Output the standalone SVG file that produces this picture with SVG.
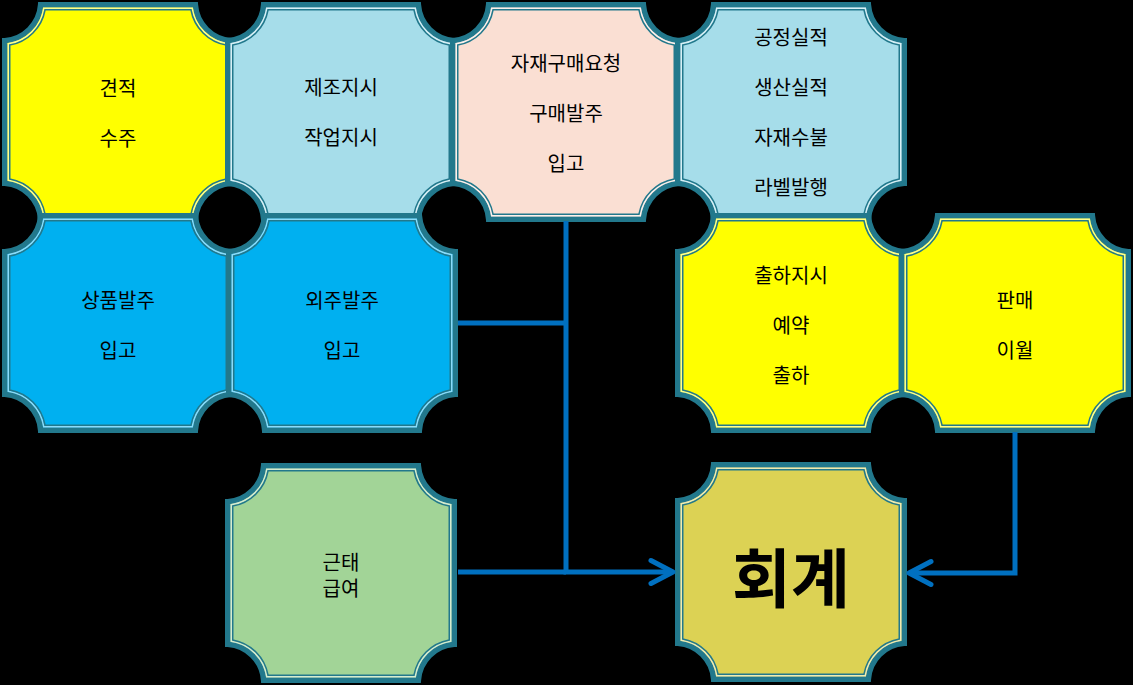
<svg xmlns="http://www.w3.org/2000/svg" xmlns:xlink="http://www.w3.org/1999/xlink" width="1133" height="685" viewBox="0 0 1133 685">
<style>
.sh{stroke:#22788C;stroke-width:5.5}
.ln{fill:none;stroke:#fff;stroke-opacity:.55;stroke-width:1.5}
.in{fill:none;stroke:#22788C;stroke-width:1.5}
.t{font-family:"Noto Sans CJK KR","Noto Sans",sans-serif;font-size:20px;fill:#000;text-anchor:middle;dominant-baseline:central}
.big{font-size:64px;font-weight:bold}
.cn{fill:none;stroke:#0070C0;stroke-width:5;stroke-linejoin:miter}
</style>
<defs>
<path id="pA" d="M38.65,2.75 H193.35 A38.75,38.75 0 0 0 229.25,38.65 V181.35 A38.75,38.75 0 0 0 193.35,217.25 H38.65 A38.75,38.75 0 0 0 2.75,181.35 V38.65 A38.75,38.75 0 0 0 38.65,2.75 Z"/>
<path id="pB" d="M41.79,6.25 H190.21 A42.25,42.25 0 0 0 225.75,41.79 V178.21 A42.25,42.25 0 0 0 190.21,213.75 H41.79 A42.25,42.25 0 0 0 6.25,178.21 V41.79 A42.25,42.25 0 0 0 41.79,6.25 Z"/>
<path id="pC" d="M43.06,7.75 H188.94 A43.75,43.75 0 0 0 224.25,43.06 V176.94 A43.75,43.75 0 0 0 188.94,212.25 H43.06 A43.75,43.75 0 0 0 7.75,176.94 V43.06 A43.75,43.75 0 0 0 43.06,7.75 Z"/>
<marker id="arr" viewBox="-30 -16 34 32" markerWidth="34" markerHeight="32" refX="0" refY="0" markerUnits="userSpaceOnUse" orient="auto" overflow="visible">
<path d="M-22,-11.5 L0,0 L-22,11.5" fill="none" stroke="#0070C0" stroke-width="5" stroke-linecap="round" stroke-linejoin="round"/>
</marker>
</defs>
<rect x="0" y="0" width="1133" height="685" fill="#000"/>
<g id="n-gyeonjeok" transform="translate(2,2)">
<use xlink:href="#pA" class="sh" fill="#FFFF00"/><use xlink:href="#pB" class="ln"/><use xlink:href="#pC" class="in"/>
<text class="t" x="116" y="85">견적</text><text class="t" x="116" y="135">수주</text>
</g>
<g id="n-jejo" transform="translate(225,2)">
<use xlink:href="#pA" class="sh" fill="#A6DDEA"/><use xlink:href="#pB" class="ln"/><use xlink:href="#pC" class="in"/>
<text class="t" x="116" y="84">제조지시</text><text class="t" x="116" y="134">작업지시</text>
</g>
<g id="n-jajae" transform="translate(450,2)">
<use xlink:href="#pA" class="sh" fill="#FADFD3"/><use xlink:href="#pB" class="ln"/><use xlink:href="#pC" class="in"/>
<text class="t" x="116" y="60">자재구매요청</text><text class="t" x="116" y="110">구매발주</text><text class="t" x="116" y="160">입고</text>
</g>
<g id="n-gongjeong" transform="translate(675,2)">
<use xlink:href="#pA" class="sh" fill="#A6DDEA"/><use xlink:href="#pB" class="ln"/><use xlink:href="#pC" class="in"/>
<text class="t" x="116" y="34">공정실적</text><text class="t" x="116" y="84">생산실적</text><text class="t" x="116" y="134">자재수불</text><text class="t" x="116" y="184">라벨발행</text>
</g>
<g id="n-sangpum" transform="translate(2,213)">
<use xlink:href="#pA" class="sh" fill="#00B0F0"/><use xlink:href="#pB" class="ln"/><use xlink:href="#pC" class="in"/>
<text class="t" x="116" y="86">상품발주</text><text class="t" x="116" y="136">입고</text>
</g>
<g id="n-oeju" transform="translate(226,213)">
<use xlink:href="#pA" class="sh" fill="#00B0F0"/><use xlink:href="#pB" class="ln"/><use xlink:href="#pC" class="in"/>
<text class="t" x="116" y="86">외주발주</text><text class="t" x="116" y="136">입고</text>
</g>
<g id="n-chulha" transform="translate(675,213)">
<use xlink:href="#pA" class="sh" fill="#FFFF00"/><use xlink:href="#pB" class="ln"/><use xlink:href="#pC" class="in"/>
<text class="t" x="116" y="61">출하지시</text><text class="t" x="116" y="111">예약</text><text class="t" x="116" y="161">출하</text>
</g>
<g id="n-panmae" transform="translate(899,213)">
<use xlink:href="#pA" class="sh" fill="#FFFF00"/><use xlink:href="#pB" class="ln"/><use xlink:href="#pC" class="in"/>
<text class="t" x="116" y="86">판매</text><text class="t" x="116" y="136">이월</text>
</g>
<g id="n-geuntae" transform="translate(225,463)">
<use xlink:href="#pA" class="sh" fill="#A2D497"/><use xlink:href="#pB" class="ln"/><use xlink:href="#pC" class="in"/>
<text class="t" x="116" y="98">근태</text><text class="t" x="116" y="124.5">급여</text>
</g>
<g id="n-hoegye" transform="translate(675,462)">
<use xlink:href="#pA" class="sh" fill="#DCD254"/><use xlink:href="#pB" class="ln"/><use xlink:href="#pC" class="in"/>
<text class="t big" x="116" y="112">회계</text>
</g>
<g id="connectors">
<path class="cn" d="M566,221 V572 H673" marker-end="url(#arr)"/>
<path class="cn" d="M458,323 H566"/>
<path class="cn" d="M458,572 H566"/>
<path class="cn" d="M1015,432 V573 H909" marker-end="url(#arr)"/>
</g>
</svg>
